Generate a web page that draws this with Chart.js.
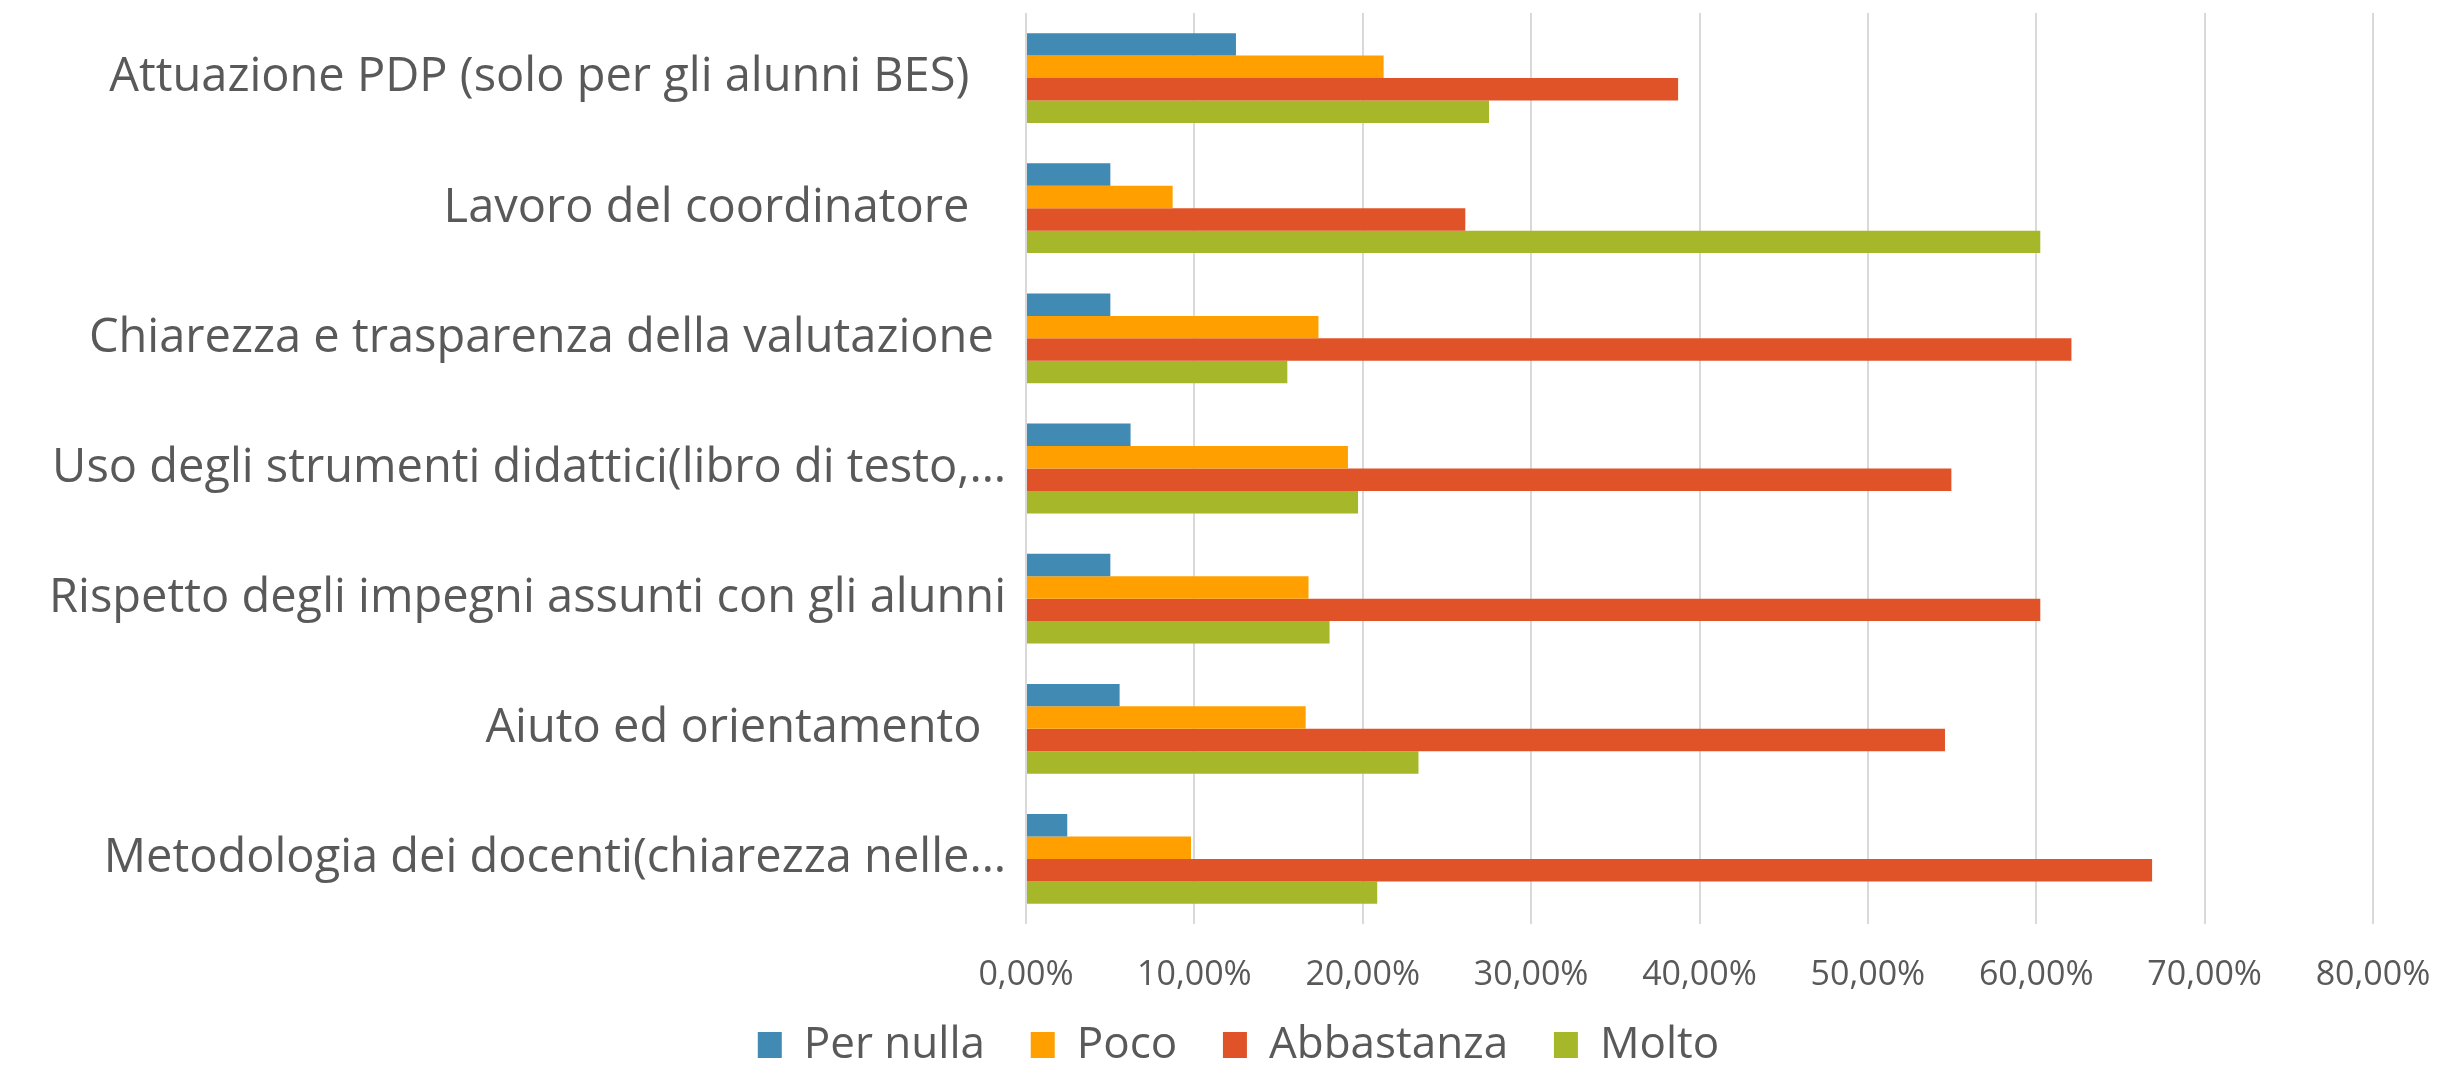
<!DOCTYPE html>
<html>
<head>
<meta charset="utf-8">
<script src="https://cdn.jsdelivr.net/npm/chart.js@4/dist/chart.umd.min.js"></script>
<style>
  html, body { margin: 0; padding: 0; background: #fff; }
  #wrap { width: 2438px; height: 1066px; }
</style>
</head>
<body>
<div id="wrap"><canvas id="chart"></canvas></div>
<script>
// categorie, dall'alto in basso come nel grafico (spazi finali come nel foglio)
const categories = [
  "Attuazione PDP (solo per gli alunni BES)   ",
  "Lavoro del coordinatore   ",
  "Chiarezza e trasparenza della valutazione ",
  "Uso degli strumenti didattici(libro di testo,…",
  "Rispetto degli impegni assunti con gli alunni",
  "Aiuto ed orientamento  ",
  "Metodologia dei docenti(chiarezza nelle…"
];
const seriesNames = ["Per nulla", "Poco", "Abbastanza", "Molto"];
const perNulla   = [12.47, 5.01, 5.01, 6.21, 5.01, 5.56, 2.45];
const poco       = [21.24, 8.71, 17.37, 19.12, 16.78, 16.61, 9.80];
const abbastanza = [38.73, 26.09, 62.09, 54.96, 60.24, 54.58, 66.88];
const molto      = [27.50, 60.24, 15.52, 19.72, 18.03, 23.31, 20.86];
const xTicks = [0, 10, 20, 30, 40, 50, 60, 70, 80];

const colors = ["#418AB3", "#FFA000", "#E05328", "#A6B829"];
const textColor = "#595959";
const fontFamily = "'Open Sans', 'Noto Sans', sans-serif";

const ds = [perNulla, poco, abbastanza, molto].map((vals, i) => ({
  label: seriesNames[i],
  data: vals,
  backgroundColor: colors[i],
  borderWidth: 0,
  barPercentage: 1,
  categoryPercentage: 0.69,
}));

// sposta la legenda (a destra e un po' in basso), come nell'originale
const legendShift = {
  id: "legendShift",
  afterLayout: (chart) => {
    const lg = chart.legend;
    lg.left += 52;
    lg.right += 52;
    lg.top += 11;
    lg.bottom += 11;
  }
};

const ctx = document.getElementById("chart");
const chart = new Chart(ctx, {
  type: "bar",
  data: { labels: categories, datasets: ds },
  plugins: [legendShift],
  options: {
    indexAxis: "y",
    responsive: true,
    maintainAspectRatio: false,
    animation: false,
    layout: { padding: { top: 13, right: 65, left: 0, bottom: 0 } },
    plugins: {
      tooltip: { enabled: false },
      legend: {
        position: "bottom",
        labels: {
          color: textColor,
          font: { family: fontFamily, size: 44, lineHeight: 1 },
          boxWidth: 24,
          boxHeight: 26,
          padding: 0,
          generateLabels: (c) => {
            const items = Chart.defaults.plugins.legend.labels.generateLabels(c);
            // spazio fra le voci
            items.forEach((it, i) => {
              if (i < items.length - 1) it.text = it.text + "    ";
            });
            return items;
          }
        }
      }
    },
    scales: {
      x: {
        min: xTicks[0],
        max: xTicks[xTicks.length - 1],
        afterBuildTicks: (scale) => {
          scale.ticks = xTicks.map(v => ({ value: v }));
        },
        afterFit: (scale) => {
          scale.height = 88;
          scale.paddingLeft = 0;
          scale.paddingRight = 0;
        },
        grid: { color: "#D9D9D9", lineWidth: 2, drawTicks: false },
        border: { display: false },
        ticks: {
          color: textColor,
          font: { family: fontFamily, size: 34 },
          padding: 31,
          maxRotation: 0,
          minRotation: 0,
          callback: (v) => Number(v).toFixed(2).replace(".", ",") + "%"
        }
      },
      y: {
        afterFit: (scale) => {
          scale.width = 1026;
          scale.paddingTop = 0;
          scale.paddingBottom = 0;
        },
        grid: { display: false },
        border: { display: false },
        ticks: {
          color: textColor,
          font: { family: fontFamily, size: 47 },
          padding: 12,
          autoSkip: false
        }
      }
    }
  }
});
</script>
</body>
</html>
